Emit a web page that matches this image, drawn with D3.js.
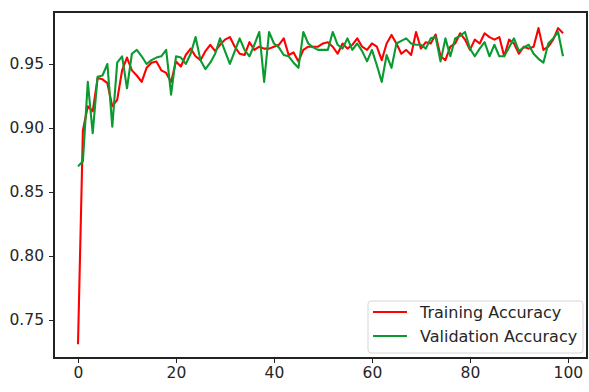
<!DOCTYPE html>
<html>
<head>
<meta charset="utf-8">
<script src="https://cdn.jsdelivr.net/npm/d3@7"></script>
<style>
body { margin: 0; background: #fff; }
svg { display: block; }
.axis text { font-family: "DejaVu Sans", sans-serif; font-size: 15.5px; fill: #262626; }
.axis path, .axis line { stroke: #222; stroke-width: 1.1px; shape-rendering: crispEdges; }
.legend text { font-family: "DejaVu Sans", sans-serif; font-size: 16px; fill: #262626; }
</style>
</head>
<body>
<svg width="589" height="392"></svg>
<script>

var epochs = d3.range(0, 100);

var trainAcc = [
	0.731, 0.898, 0.917, 0.913, 0.939, 0.938, 0.935, 0.917, 0.922, 0.945,
	0.955, 0.945, 0.941, 0.936, 0.947, 0.951, 0.952, 0.945, 0.943, 0.936,
	0.952, 0.948, 0.957, 0.962, 0.956, 0.953, 0.960, 0.965, 0.960, 0.965,
	0.969, 0.971, 0.9635, 0.958, 0.957, 0.967, 0.961, 0.9635, 0.962, 0.962,
	0.9635, 0.965, 0.970, 0.957, 0.959, 0.952, 0.961, 0.9635, 0.9635, 0.9635,
	0.966, 0.967, 0.9635, 0.958, 0.966, 0.962, 0.965, 0.970, 0.9635, 0.961,
	0.966, 0.9635, 0.953, 0.966, 0.9727, 0.966, 0.958, 0.961, 0.957, 0.975,
	0.962, 0.967, 0.966, 0.973, 0.956, 0.953, 0.9635, 0.966, 0.974, 0.969,
	0.961, 0.969, 0.966, 0.974, 0.971, 0.969, 0.971, 0.956, 0.969, 0.966,
	0.958, 0.9635, 0.962, 0.9635, 0.978, 0.961, 0.9635, 0.969, 0.978, 0.974
];

var valAcc = [
	0.870, 0.874, 0.936, 0.896, 0.940, 0.941, 0.950, 0.901, 0.951, 0.956,
	0.931, 0.958, 0.961, 0.956, 0.950, 0.953, 0.955, 0.956, 0.961, 0.926,
	0.956, 0.955, 0.950, 0.958, 0.971, 0.953, 0.946, 0.951, 0.958, 0.970,
	0.960, 0.950, 0.960, 0.970, 0.961, 0.956, 0.965, 0.975, 0.936, 0.975,
	0.966, 0.963, 0.957, 0.956, 0.951, 0.947, 0.975, 0.966, 0.963, 0.961,
	0.961, 0.961, 0.975, 0.965, 0.962, 0.970, 0.961, 0.966, 0.960, 0.952,
	0.961, 0.949, 0.936, 0.957, 0.947, 0.966, 0.968, 0.970, 0.966, 0.965,
	0.965, 0.962, 0.970, 0.971, 0.952, 0.970, 0.956, 0.970, 0.972, 0.975,
	0.962, 0.956, 0.962, 0.967, 0.956, 0.965, 0.956, 0.956, 0.963, 0.970,
	0.960, 0.963, 0.965, 0.958, 0.954, 0.951, 0.966, 0.970, 0.975, 0.956
];

var xTicks = [0, 20, 40, 60, 80, 100];
var yTicks = [0.75, 0.80, 0.85, 0.90, 0.95];

var series = [
	{ name: "Training Accuracy", values: trainAcc, color: "#ff0000" },
	{ name: "Validation Accuracy", values: valAcc, color: "#0a9a30" }
];

var svg = d3.select("svg"),
	margin = { left: 54, right: 2, top: 12, bottom: 34 },
	width = +svg.attr("width"),
	height = +svg.attr("height");

var x = d3.scaleLinear()
	.domain([-4.9, 103.9])
	.range([margin.left, width - margin.right]);

var y = d3.scaleLinear()
	.domain([0.7203, 0.9906])
	.range([height - margin.bottom, margin.top]);

var line = d3.line()
	.x(function(d, i) { return x(epochs[i]); })
	.y(function(d) { return y(d); });

svg.append("g")
	.selectAll("path")
	.data(series)
	.enter().append("path")
	.attr("fill", "none")
	.attr("stroke", function(d) { return d.color; })
	.attr("stroke-width", 2.1)
	.attr("stroke-linejoin", "round")
	.attr("d", function(d) { return line(d.values); });

// frame
svg.append("rect")
	.attr("x", x.range()[0])
	.attr("y", y.range()[1])
	.attr("width", x.range()[1] - x.range()[0])
	.attr("height", y.range()[0] - y.range()[1])
	.attr("fill", "none")
	.attr("stroke", "#222")
	.attr("stroke-width", 1.1)
	.attr("shape-rendering", "crispEdges");

svg.append("g")
	.attr("class", "axis")
	.attr("transform", "translate(0," + y.range()[0] + ")")
	.call(d3.axisBottom(x).tickValues(xTicks).tickSize(5).tickPadding(4).tickSizeOuter(0))
	.call(function(g) { g.select(".domain").remove(); });

svg.append("g")
	.attr("class", "axis")
	.attr("transform", "translate(" + x.range()[0] + ",0)")
	.call(d3.axisLeft(y).tickValues(yTicks).tickFormat(d3.format(".2f")).tickSize(5).tickPadding(5).tickSizeOuter(0))
	.call(function(g) { g.select(".domain").remove(); });

// legend
var legend = svg.append("g")
	.attr("class", "legend")
	.attr("transform", "translate(368,301)");

legend.append("rect")
	.attr("width", 215)
	.attr("height", 52)
	.attr("rx", 3)
	.attr("fill", "#fff")
	.attr("fill-opacity", 0.8)
	.attr("stroke", "#d6d6d6");

var item = legend.selectAll(".item")
	.data(series)
	.enter().append("g")
	.attr("class", "item")
	.attr("transform", function(d, i) { return "translate(0," + (11 + i * 24) + ")"; });

item.append("line")
	.attr("x1", 5).attr("x2", 39)
	.attr("stroke", function(d) { return d.color; })
	.attr("stroke-width", 2.1);

item.append("text")
	.attr("x", 52)
	.attr("dy", "0.35em")
	.text(function(d) { return d.name; });

</script>
</body>
</html>
